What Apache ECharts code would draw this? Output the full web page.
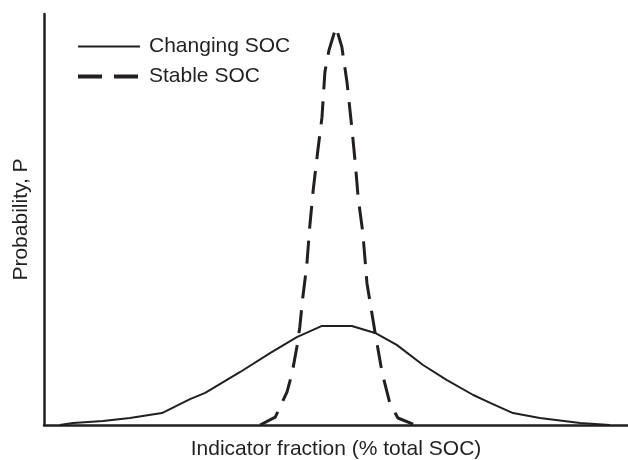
<!DOCTYPE html>
<html>
<head>
<meta charset="utf-8">
<script src="https://cdn.jsdelivr.net/npm/echarts@6/dist/echarts.min.js"></script>
<style>
html,body{margin:0;padding:0;background:#fff;}
#chart{width:628px;height:460px;}
</style>
</head>
<body>
<div id="chart"></div>
<script>
// Indicator fraction (arbitrary 0–100 scale) and probability (arbitrary 0–100 scale)
var changingX = [2.7, 5.0, 10.1, 14.7, 20.2, 25.0, 27.6, 33.6, 38.7, 43.3, 47.6, 52.7, 56.7, 60.4, 64.9, 69.0, 73.5, 76.4, 80.3, 84.9, 91.8, 96.9];
var changingP = [0, 0.5, 1.0, 1.7, 2.9, 6.3, 7.8, 12.9, 17.5, 21.4, 24.1, 24.1, 22.4, 19.5, 14.6, 10.9, 7.3, 5.4, 2.9, 1.7, 0.5, 0];

var stableX = [37.0, 39.6, 41.6, 42.5, 43.3, 43.8, 44.3, 45.0, 45.5, 46.1, 46.9, 47.6, 48.1, 48.8, 50.0, 51.0, 51.9, 52.7, 53.3, 53.8, 54.6, 55.3, 56.7, 57.9, 59.2, 60.6, 63.2];
var stableP = [0, 1.9, 8.0, 12.7, 19.0, 23.8, 30.9, 38.9, 48.2, 57.2, 66.9, 74.9, 85.9, 91.2, 96.8, 92.0, 83.2, 72.5, 63.7, 55.2, 46.7, 34.5, 22.4, 12.7, 5.4, 1.7, 0.2];

var seriesNames = ['Changing SOC', 'Stable SOC'];
var xAxisName = 'Indicator fraction (% total SOC)';
var yAxisName = 'Probability, P';

function pairs(xs, ys) {
  var out = [];
  for (var i = 0; i < xs.length; i++) out.push([xs[i], ys[i]]);
  return out;
}

var ink = '#231f20';
var font = '"Liberation Sans", Arial, Helvetica, sans-serif';

var chart = echarts.init(document.getElementById('chart'), null, {renderer: 'canvas'});
chart.setOption({
  animation: false,
  backgroundColor: '#fff',
  grid: {left: 44, right: 0, top: 14, bottom: 35, containLabel: false, outerBoundsMode: 'none'},
  legend: {
    left: 71,
    top: 31,
    orient: 'vertical',
    itemWidth: 62,
    itemHeight: 14,
    itemGap: 9,
    itemStyle: {opacity: 0},
    textStyle: {fontFamily: font, fontSize: 21, color: ink, padding: [0, 0, 0, 4]},
    data: [
      {name: seriesNames[0], lineStyle: {color: ink, width: 2, type: 'solid'}},
      {name: seriesNames[1], lineStyle: {color: ink, width: 4, type: [24, 12]}}
    ]
  },
  xAxis: {
    type: 'value',
    min: 0,
    max: 100,
    name: xAxisName,
    nameLocation: 'middle',
    nameGap: 14,
    nameTextStyle: {fontFamily: font, fontSize: 21, color: ink, verticalAlign: 'top'},
    axisLine: {show: true, lineStyle: {color: ink, width: 2.5}},
    axisTick: {show: false},
    axisLabel: {show: false},
    splitLine: {show: false}
  },
  yAxis: {
    type: 'value',
    min: 0,
    max: 100,
    name: yAxisName,
    nameLocation: 'middle',
    nameGap: 12,
    nameTextStyle: {fontFamily: font, fontSize: 21, color: ink},
    axisLine: {show: true, lineStyle: {color: ink, width: 2.5}},
    axisTick: {show: false},
    axisLabel: {show: false},
    splitLine: {show: false}
  },
  series: [
    {
      name: seriesNames[0],
      type: 'line',
      data: pairs(changingX, changingP),
      symbol: 'none',
      smooth: false,
      lineStyle: {color: ink, width: 2},
      itemStyle: {color: ink}
    },
    {
      name: seriesNames[1],
      type: 'line',
      data: pairs(stableX, stableP),
      symbol: 'none',
      smooth: false,
      lineStyle: {color: ink, width: 3, type: [23, 12]},
      itemStyle: {color: ink}
    }
  ]
});
</script>
</body>
</html>
